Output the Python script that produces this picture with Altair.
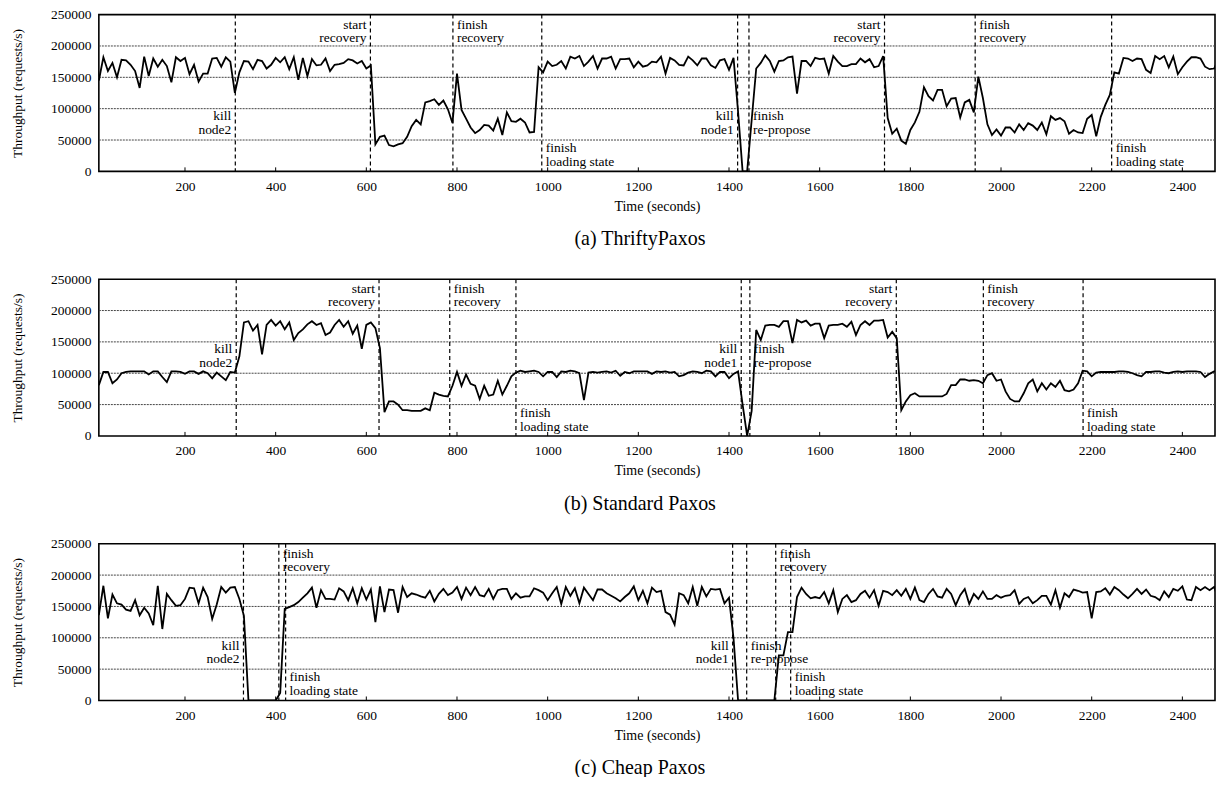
import altair as alt
import pandas as pd

FONT = "Liberation Serif"
W, H = 1118, 157

# sample times (seconds)
times = list(range(10, 2500, 10))

# throughput in thousands of requests/s, one value every 10 s
thrifty_k = [
    145, 182, 160, 173, 150, 178, 177, 170, 160, 133,
    183, 152, 180, 167, 178, 168, 142, 182, 176, 181,
    155, 170, 143, 156, 156, 180, 181, 167, 182, 175,
    125, 158, 176, 175, 163, 178, 176, 164, 170, 181,
    174, 182, 163, 182, 146, 181, 152, 179, 169, 170,
    180, 160, 170, 171, 173, 179, 177, 172, 176, 164,
    169, 43, 55, 57, 42, 40, 43, 45, 55, 72,
    82, 75, 110, 112, 115, 106, 113, 99, 77, 156,
    98, 84, 70, 61, 66, 74, 73, 65, 84, 58,
    94, 80, 79, 84, 78, 62, 63, 166, 158, 175,
    168, 170, 176, 164, 183, 180, 184, 168, 175, 184,
    164, 180, 180, 183, 164, 179, 179, 180, 166, 175,
    167, 169, 175, 174, 183, 156, 181, 177, 170, 169,
    183, 177, 169, 180, 180, 169, 165, 177, 179, 162,
    181, 95, 0, 0, 82, 164, 173, 185, 176, 159,
    176, 177, 182, 183, 124, 176, 176, 168, 181, 179,
    180, 156, 184, 175, 168, 168, 171, 171, 180, 174,
    179, 166, 168, 184, 85, 60, 68, 49, 44, 66,
    78, 95, 134, 120, 113, 130, 130, 104, 116, 117,
    86, 110, 114, 94, 151, 117, 75, 58, 67, 57,
    70, 70, 62, 75, 66, 77, 73, 66, 78, 59,
    88, 82, 85, 80, 60, 66, 62, 61, 84, 90,
    56, 87, 106, 122, 158, 156, 181, 180, 176, 180,
    179, 162, 157, 184, 179, 184, 166, 183, 155, 166,
    175, 182, 182, 180, 167, 163, 164, 179, 180,
]

standard_k = [
    81, 102, 102, 84, 90, 100, 102, 103, 103, 103,
    103, 98, 103, 103, 94, 86, 103, 103, 102, 99,
    103, 103, 99, 103, 100, 92, 101, 95, 89, 102,
    101, 127, 181, 183, 168, 177, 130, 177, 185, 176,
    183, 170, 181, 153, 164, 170, 178, 183, 177, 180,
    161, 165, 177, 185, 174, 183, 163, 176, 139, 177,
    181, 172, 140, 38, 55, 55, 50, 41, 41, 40,
    40, 40, 44, 41, 69, 66, 64, 63, 80, 102,
    80, 98, 83, 80, 59, 80, 64, 66, 88, 66,
    80, 95, 101, 104, 102, 103, 104, 102, 95, 102,
    102, 94, 103, 102, 104, 103, 100, 57, 101, 102,
    101, 102, 103, 101, 104, 96, 102, 100, 103, 103,
    103, 103, 99, 103, 102, 103, 101, 102, 95, 97,
    101, 103, 102, 100, 104, 103, 95, 102, 102, 92,
    99, 103, 50, 0, 40, 169, 153, 176, 177, 177,
    174, 183, 183, 148, 185, 181, 184, 176, 179, 179,
    156, 176, 177, 177, 179, 174, 182, 161, 177, 183,
    177, 184, 184, 185, 157, 166, 156, 41, 55, 65,
    68, 63, 63, 63, 63, 63, 63, 67, 81, 81,
    90, 90, 88, 89, 88, 84, 97, 100, 88, 90,
    71, 59, 55, 55, 68, 84, 90, 71, 84, 74,
    84, 78, 88, 73, 71, 74, 84, 104, 103, 95,
    101, 102, 102, 102, 102, 103, 103, 102, 100, 97,
    95, 102, 102, 103, 103, 101, 100, 102, 103, 102,
    103, 103, 103, 102, 94, 99, 103, 103, 98,
]

cheap_k = [
    136, 183, 131, 169, 155, 153, 145, 143, 160, 136,
    148, 139, 120, 183, 114, 170, 160, 151, 152, 162,
    180, 179, 155, 180, 165, 130, 153, 181, 172, 180,
    181, 162, 135, 0, 0, 0, 0, 0, 0, 0,
    12, 146, 149, 152, 157, 164, 171, 180, 148, 176,
    162, 162, 161, 179, 174, 160, 179, 155, 179, 161,
    177, 125, 182, 141, 177, 176, 140, 181, 165, 171,
    169, 166, 164, 175, 158, 170, 178, 168, 172, 181,
    162, 180, 168, 181, 168, 166, 178, 162, 176, 178,
    178, 162, 171, 164, 166, 166, 179, 176, 172, 160,
    171, 181, 154, 181, 167, 179, 155, 180, 170, 160,
    177, 177, 171, 167, 163, 158, 165, 171, 182, 160,
    175, 155, 180, 173, 175, 141, 137, 121, 171, 168,
    155, 181, 151, 181, 166, 178, 177, 178, 155, 164,
    99, 0, 0, 0, 0, 0, 0, 0, 0, 0,
    72, 72, 109, 109, 165, 180, 170, 163, 165, 163,
    173, 155, 176, 141, 162, 168, 157, 160, 170, 175,
    164, 176, 151, 175, 173, 168, 176, 167, 178, 162,
    180, 160, 157, 170, 178, 166, 164, 178, 170, 152,
    168, 178, 154, 170, 162, 174, 162, 162, 168, 164,
    167, 168, 176, 154, 162, 165, 155, 160, 167, 167,
    153, 176, 148, 171, 165, 177, 175, 172, 173, 131,
    173, 174, 179, 169, 181, 176, 169, 163, 170, 178,
    170, 177, 167, 165, 160, 174, 165, 178, 175, 182,
    161, 160, 181, 176, 181, 176, 181, 162, 166,
]

x_tick_values = [200, 400, 600, 800, 1000, 1200, 1400, 1600, 1800, 2000, 2200, 2400]
y_tick_values = [0, 50000, 100000, 150000, 200000, 250000]
grid_values = [50000, 100000, 150000, 200000]

# events: (time, side of text, text level, line 1, line 2)
events_a = [
    (311, "left", "mid", "kill", "node2"),
    (609, "left", "top", "start", "recovery"),
    (791, "right", "top", "finish", "recovery"),
    (987, "right", "bottom", "finish", "loading state"),
    (1419, "left", "mid", "kill", "node1"),
    (1444, "right", "mid", "finish", "re-propose"),
    (1743, "left", "top", "start", "recovery"),
    (1943, "right", "top", "finish", "recovery"),
    (2244, "right", "bottom", "finish", "loading state"),
]
events_b = [
    (313, "left", "midb", "kill", "node2"),
    (628, "left", "top", "start", "recovery"),
    (784, "right", "top", "finish", "recovery"),
    (930, "right", "bottom", "finish", "loading state"),
    (1427, "left", "midb", "kill", "node1"),
    (1446, "right", "midb", "finish", "re-propose"),
    (1769, "left", "top", "start", "recovery"),
    (1961, "right", "top", "finish", "recovery"),
    (2181, "right", "bottom", "finish", "loading state"),
]
events_c = [
    (329, "left", "mid", "kill", "node2"),
    (407, "right", "top", "finish", "recovery"),
    (422, "right", "bottom", "finish", "loading state"),
    (1408, "left", "mid", "kill", "node1"),
    (1439, "right", "mid", "finish", "re-propose"),
    (1503, "right", "top", "finish", "recovery"),
    (1536, "right", "bottom", "finish", "loading state"),
]

# vertical placement of the two annotation lines (in requests/s)
levels = {
    "top": (234000, 213000),
    "bottom": (37100, 14800),
    "mid": (87600, 66100),
    "midb": (138000, 115800),
}

xs = alt.Scale(domain=[10, 2472], nice=False, zero=False)
ys = alt.Scale(domain=[0, 250000], nice=False, zero=True)


def make_axes():
    x_axis = alt.Axis(
        values=x_tick_values, format="d", title="Time (seconds)", grid=False,
        domain=False, ticks=False, labelFontSize=13.5, labelPadding=8,
        titleFontSize=14, titleFontWeight="normal", titlePadding=6.5,
        labelColor="black", titleColor="black", labelFont=FONT, titleFont=FONT,
        labelFlush=False,
    )
    y_axis = alt.Axis(
        values=y_tick_values, format="d", title="Throughput (requests/s)",
        grid=False, domain=False, ticks=False, labelFontSize=13.5,
        labelPadding=8, titleFontSize=13.5, titleFontWeight="normal",
        titlePadding=26, labelColor="black", titleColor="black",
        labelFont=FONT, titleFont=FONT,
    )
    return x_axis, y_axis


def panel(vals_k, events, caption):
    x_axis, y_axis = make_axes()
    df = pd.DataFrame({"t": times, "v": [k * 1000 for k in vals_k]})
    ev = pd.DataFrame({"t": [e[0] for e in events]})
    rows = []
    for t, side, lvl, l1, l2 in events:
        y1, y2 = levels[lvl]
        rows.append({"t": t, "y": y1, "text": l1, "side": side})
        rows.append({"t": t, "y": y2, "text": l2, "side": side})
    ann = pd.DataFrame(rows)

    X = lambda f: alt.X(f, scale=xs, axis=x_axis)
    Y = lambda f: alt.Y(f, scale=ys, axis=y_axis)

    line = alt.Chart(df).mark_line(color="black", strokeWidth=1.8, clip=True).encode(
        x=X("t:Q"), y=Y("v:Q"),
    )

    grid = alt.Chart(pd.DataFrame({"g": grid_values})).mark_rule(
        color="#444444", strokeDash=[2, 1], strokeWidth=1
    ).encode(y=Y("g:Q"))

    ticks = alt.Chart(pd.DataFrame({"t": x_tick_values})).mark_rule(
        color="black", strokeWidth=1
    ).encode(x=X("t:Q"), y=alt.value(H - 4), y2=alt.value(H))

    rules = alt.Chart(ev).mark_rule(
        color="black", strokeDash=[4, 3], strokeWidth=1.2
    ).encode(x=X("t:Q"))

    txt_left = alt.Chart(ann).transform_filter(alt.datum.side == "left").mark_text(
        align="right", baseline="middle", dx=-4, font=FONT, fontSize=13.5, color="black"
    ).encode(x=X("t:Q"), y=Y("y:Q"), text="text:N")
    txt_right = alt.Chart(ann).transform_filter(alt.datum.side == "right").mark_text(
        align="left", baseline="middle", dx=4, font=FONT, fontSize=13.5, color="black"
    ).encode(x=X("t:Q"), y=Y("y:Q"), text="text:N")

    return alt.layer(grid, ticks, rules, line, txt_left, txt_right).properties(
        width=W, height=H,
        title=alt.TitleParams(
            caption, orient="bottom", anchor="middle", fontSize=20, font=FONT,
            fontWeight="normal", color="black", offset=16, dx=-17,
        ),
    )


chart = alt.vconcat(
    panel(thrifty_k, events_a, "(a) ThriftyPaxos"),
    panel(standard_k, events_b, "(b) Standard Paxos"),
    panel(cheap_k, events_c, "(c) Cheap Paxos"),
    spacing=21,
).properties(
    padding={"left": 1, "top": -2, "right": 0, "bottom": -3}
).configure(
    font=FONT, background="white"
).configure_view(
    stroke="black", strokeWidth=1.6
)

chart.save("out.html", embed_options={"renderer": "svg", "actions": False})
